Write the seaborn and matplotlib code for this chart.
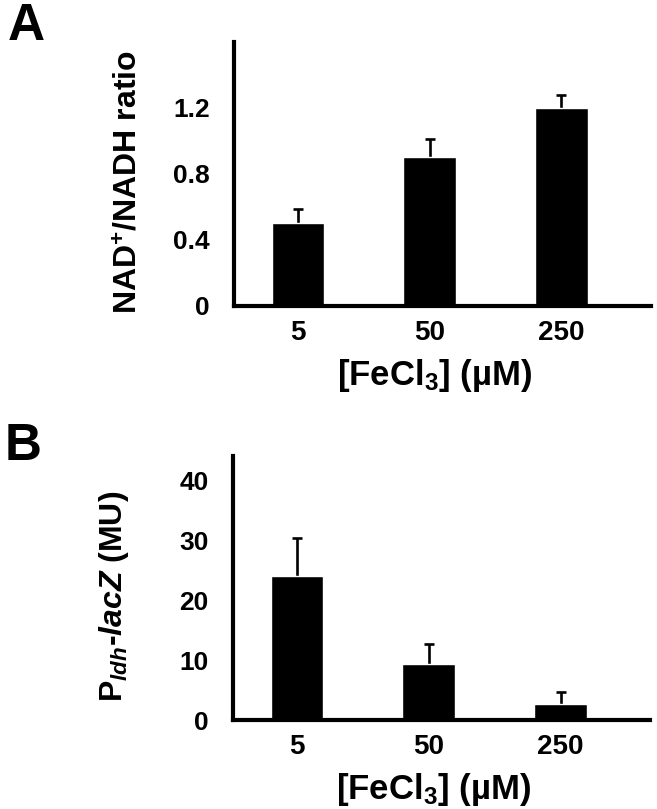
import matplotlib
matplotlib.use("Agg")
import matplotlib.pyplot as plt
import pandas as pd
import seaborn as sns

# Dane
fecl3 = ["5", "50", "250"]
nad_ratio = [0.50, 0.90, 1.20]
nad_err = [0.085, 0.11, 0.08]
ldh_lacz = [24.0, 9.3, 2.6]
ldh_err = [6.3, 3.4, 2.1]
nad_ticks = [0, 0.4, 0.8, 1.2]
nad_ticklabels = ["0", "0.4", "0.8", "1.2"]
ldh_ticks = [0, 10, 20, 30, 40]

sns.set_style("white")
plt.rcParams['font.family'] = ['Liberation Sans', 'DejaVu Sans']
plt.rcParams['font.weight'] = 'bold'
plt.rcParams['text.color'] = 'black'
plt.rcParams['axes.labelcolor'] = 'black'
plt.rcParams['xtick.color'] = 'black'
plt.rcParams['ytick.color'] = 'black'
plt.rcParams['mathtext.fontset'] = 'custom'
plt.rcParams['mathtext.rm'] = 'Liberation Sans:bold'
plt.rcParams['mathtext.bf'] = 'Liberation Sans:bold'
plt.rcParams['mathtext.it'] = 'Liberation Sans:bold:italic'

fig = plt.figure(figsize=(6.57, 8.09), dpi=100)
ax_a = fig.add_axes([0.3562, 0.6218, 0.6347, 0.3263])
ax_b = fig.add_axes([0.3547, 0.1100, 0.6347, 0.3263])


def panel(ax, vals, errs, ylim, ticks, ticklabels, ylabel, ylab_x):
    df = pd.DataFrame({"fe": fecl3, "val": vals})
    sns.barplot(data=df, x="fe", y="val", order=fecl3, color="black",
                width=0.4, saturation=1, ax=ax, zorder=2)
    # tylko górna część słupka błędu (bez dolnej kreski)
    xs = list(range(len(vals)))
    tops = [v + e for v, e in zip(vals, errs)]
    ax.errorbar(xs, vals, yerr=[[0] * len(errs), errs], fmt="none",
                ecolor="black", elinewidth=1.9, capsize=0, zorder=1)
    ax.plot(xs, tops, linestyle="none", marker="_", markersize=7.2,
            markeredgewidth=1.9, color="black", zorder=1)
    ax.set_xlim(-0.487, 2.68)
    ax.set_ylim(*ylim)
    ax.set_yticks(ticks)
    ax.set_yticklabels(ticklabels)
    for s in ["top", "right"]:
        ax.spines[s].set_visible(False)
    for s in ["left", "bottom"]:
        ax.spines[s].set_linewidth(3.0)
        ax.spines[s].set_color("black")
    ax.tick_params(axis="y", length=3.6, width=1.0, color="#555555",
                   labelcolor="black", pad=14, labelsize=19)
    ax.tick_params(axis="x", length=0, pad=10, labelsize=20,
                   labelcolor="black")
    ax.set_xlabel(r"[FeCl$_{3}$] (µM)", fontsize=25, fontweight="bold",
                  color="black")
    ax.xaxis.set_label_coords(0.48, -0.195)
    ax.set_ylabel(ylabel, fontsize=23, fontweight="bold", color="black")
    ax.yaxis.set_label_coords(ylab_x, 0.47)
    ax.grid(False)


panel(ax_a, nad_ratio, nad_err, (0, 1.6), nad_ticks, nad_ticklabels,
      r"NAD$^{+}$/NADH ratio", -0.215)
panel(ax_b, ldh_lacz, ldh_err, (0, 44), ldh_ticks,
      [str(t) for t in ldh_ticks],
      r"P$_{\mathit{ldh}}$-$\mathit{lacZ}$ (MU)", -0.245)

fig.text(8 / 657, 1 - 2 / 809, "A", fontsize=37, fontweight="bold",
         ha="left", va="top", color="black")
fig.text(5 / 657, 1 - 422 / 809, "B", fontsize=37, fontweight="bold",
         ha="left", va="top", color="black")

fig.savefig("out.png", dpi=100)
